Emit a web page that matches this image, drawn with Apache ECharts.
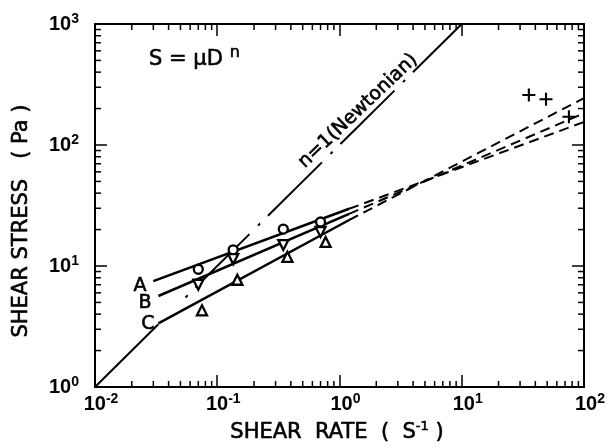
<!DOCTYPE html>
<html><head><meta charset="utf-8">
<script src="https://cdn.jsdelivr.net/npm/echarts@6/dist/echarts.min.js"></script>
<style>html,body{margin:0;padding:0;background:#fff}#c{width:608px;height:447px}</style>
</head><body><div id="c"></div>
<script>
// ---- axis ticks ----
const xMajorTicks = [0.01, 0.1, 1, 10, 100];
const yMajorTicks = [1, 10, 100, 1000];
const xMinorTicks = [0.02,0.03,0.04,0.05,0.06,0.07,0.08,0.09,
                     0.2,0.3,0.4,0.5,0.6,0.7,0.8,0.9,
                     2,3,4,5,6,7,8,9,
                     20,30,40,50,60,70,80,90];
const yMinorTicks = [2,3,4,5,6,7,8,9,
                     20,30,40,50,60,70,80,90,
                     200,300,400,500,600,700,800,900];

// ---- measured points (shear rate, shear stress) ----
const pointsA = [[0.070, 9.4], [0.135, 13.6], [0.347, 20.2], [0.70, 23.1]];
const pointsB = [[0.070, 7.0], [0.135, 11.4], [0.347, 14.9], [0.70, 19.1]];
const pointsC = [[0.075, 4.3], [0.146, 7.7], [0.375, 11.9], [0.77, 15.8]];
const pointsPlus = [[35.4, 259], [48.9, 239], [75.3, 171]];

// ---- fitted power-law lines (solid part, dashed extrapolation) ----
const lineASolid = [[0.030, 7.5], [1.2, 29.7]];
const lineADash  = [[1.2, 29.7], [100, 155]];
const lineBSolid = [[0.033, 5.65], [1.2, 27]];
const lineBDash  = [[1.2, 27], [100, 183]];
const lineCSolid = [[0.033, 3.36], [1.2, 24]];
const lineCDash  = [[1.2, 24], [100, 244]];

// ---- Newtonian line n = 1 ----
const newtonSolid   = [[0.01, 1], [0.033, 3.3]];
const newtonDashDot = [[0.055, 5.5], [10, 1000]];

const TICK_FONT = "'Liberation Sans Narrow', 'Liberation Sans', sans-serif";
const TEXT_FONT = "'DejaVu Sans', sans-serif";
const X_MIN = xMajorTicks[0], X_MAX = xMajorTicks[xMajorTicks.length - 1];
const Y_MIN = yMajorTicks[0], Y_MAX = yMajorTicks[yMajorTicks.length - 1];
const MINOR = 6;

function expLabel(v) {
  const e = Math.round(Math.log10(v));
  return '{b|10}{s|' + e + '}';
}
const tickRich = {
  b: {fontSize: 20, fontFamily: TICK_FONT, fontWeight: 'bold', color: '#000'},
  s: {fontSize: 14, fontFamily: TICK_FONT, fontWeight: 'bold', color: '#000', padding: [0, 0, 10, 0]}
};

function minorTickSeries(values, dir) {
  return {
    type: 'custom', silent: true, clip: false, z: 10,
    data: values.map(v => dir === 'x' ? [v, Y_MIN] : [X_MIN, v]),
    encode: {x: 0, y: 1},
    renderItem: function (params, api) {
      const st = {stroke: '#000', lineWidth: 1.5};
      if (dir === 'x') {
        const v = api.value(0);
        const a = api.coord([v, Y_MIN]), b = api.coord([v, Y_MAX]);
        return {type: 'group', children: [
          {type: 'line', shape: {x1: a[0], y1: a[1], x2: a[0], y2: a[1] - MINOR}, style: st},
          {type: 'line', shape: {x1: b[0], y1: b[1], x2: b[0], y2: b[1] + MINOR}, style: st}
        ]};
      } else {
        const v = api.value(1);
        const a = api.coord([X_MIN, v]), b = api.coord([X_MAX, v]);
        return {type: 'group', children: [
          {type: 'line', shape: {x1: a[0], y1: a[1], x2: a[0] + MINOR, y2: a[1]}, style: st},
          {type: 'line', shape: {x1: b[0], y1: b[1], x2: b[0] - MINOR, y2: b[1]}, style: st}
        ]};
      }
    }
  };
}

function lineSeries(data, width, dash, dashOffset) {
  return {
    type: 'line', data: data, symbol: 'none', silent: true, z: 3,
    lineStyle: {color: '#000', width: width, type: dash || 'solid', dashOffset: dashOffset || 0, cap: 'butt'}
  };
}

const axisCommon = {
  type: 'log', logBase: 10,
  axisLine: {show: true, onZero: false, lineStyle: {color: '#000', width: 2}},
  axisTick: {show: true, inside: true, length: 12, lineStyle: {color: '#000', width: 1.5}},
  splitLine: {show: false}, minorTick: {show: false}
};

const plusPath = 'path://M4.2,0H5.8V4.2H10V5.8H5.8V10H4.2V5.8H0V4.2H4.2Z';

function textEl(x, y, text, size, extra) {
  return Object.assign({type: 'text', x: x, y: y, style: Object.assign({
    text: text, fontSize: size, fontFamily: TEXT_FONT, fill: '#000',
    stroke: '#000', lineWidth: 0.6, align: 'center', verticalAlign: 'middle'
  }, (extra && extra.style) || {})}, extra && extra.rotation !== undefined ? {rotation: extra.rotation} : {});
}

function markerSeries(data, symbol, size, rotate) {
  return {
    type: 'scatter', data: data, symbol: symbol, symbolSize: size, symbolRotate: rotate || 0, z: 5,
    silent: true,
    itemStyle: {color: '#fff', borderColor: '#000', borderWidth: 2.3, opacity: 1}
  };
}

const option = {
  animation: false,
  backgroundColor: '#fff',
  grid: {left: 95, right: 24, top: 24, bottom: 60, containLabel: false},
  xAxis: [
    Object.assign({}, axisCommon, {min: X_MIN, max: X_MAX, position: 'bottom',
      axisLabel: {formatter: expLabel, rich: tickRich, margin: 5, padding: [0, 0, 0, 12]}}),
    Object.assign({}, axisCommon, {min: X_MIN, max: X_MAX, position: 'top', axisLabel: {show: false}})
  ],
  yAxis: [
    Object.assign({}, axisCommon, {min: Y_MIN, max: Y_MAX, position: 'left',
      axisLabel: {formatter: expLabel, rich: tickRich, margin: 16}}),
    Object.assign({}, axisCommon, {min: Y_MIN, max: Y_MAX, position: 'right', axisLabel: {show: false}})
  ],
  graphic: [
    textEl(337, 433, 'SHEAR  RATE  (  S{s|-1} )', 21, {style: {
      rich: {s: {fontSize: 13, fontFamily: TEXT_FONT, fill: '#000', padding: [0, 0, 12, 0]}}}}),
    textEl(22, 221, 'SHEAR STRESS   ( Pa )', 21, {rotation: Math.PI / 2}),
    textEl(149, 60, 'S = μD{s|n}', 21, {style: {align: 'left',
      rich: {s: {fontSize: 16, fontFamily: TEXT_FONT, fill: '#000', padding: [0, 0, 14, 7]}}}}),
    textEl(358, 111, 'n=1(Newtonian)', 19, {rotation: 0.76}),
    textEl(140, 286, 'A', 19),
    textEl(145, 303, 'B', 19),
    textEl(148, 324, 'C', 19)
  ],
  series: [
    minorTickSeries(xMinorTicks, 'x'),
    minorTickSeries(yMinorTicks, 'y'),
    lineSeries(newtonSolid, 2),
    lineSeries(newtonDashDot, 2, [76, 12, 3, 11], 88),
    lineSeries(lineASolid, 2.5),
    lineSeries(lineBSolid, 2.5),
    lineSeries(lineCSolid, 2.5),
    lineSeries(lineADash, 2, [10, 6]),
    lineSeries(lineBDash, 2, [10, 6]),
    lineSeries(lineCDash, 2, [10, 6]),
    markerSeries(pointsA, 'circle', 9),
    markerSeries(pointsB, 'triangle', 10, 180),
    markerSeries(pointsC, 'triangle', 10),
    {type: 'scatter', data: pointsPlus, symbol: plusPath, symbolSize: 13, z: 5, silent: true,
      itemStyle: {color: '#000', opacity: 1}}
  ]
};

const chart = echarts.init(document.getElementById('c'), null, {renderer: 'canvas'});
chart.setOption(option);
</script>
</body></html>
